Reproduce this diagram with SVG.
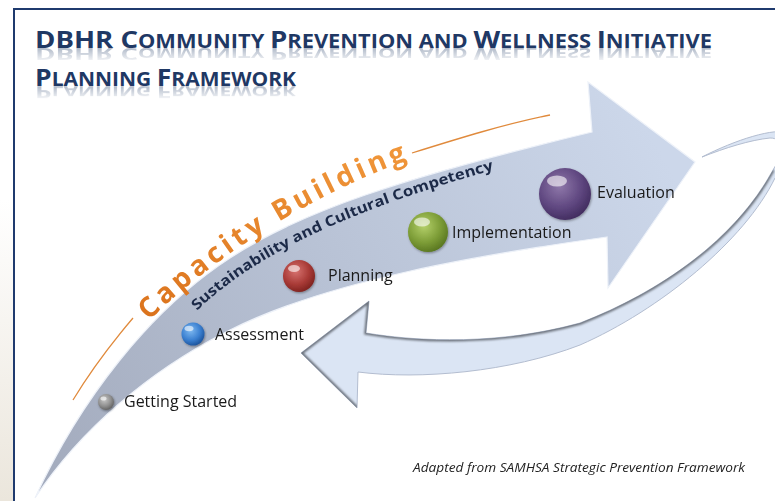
<svg xmlns="http://www.w3.org/2000/svg" width="775" height="501" viewBox="0 0 775 501">
<defs>
<style>
.title{font-family:"Open Sans","Liberation Sans",sans-serif;font-weight:bold;fill:#1f3864}
.big{font-size:24px}
.sm{font-size:19px}
.lbl{font-family:"Open Sans","Liberation Sans",sans-serif;font-size:16px;fill:#1a1a1a}
.cap{font-family:"Open Sans","DejaVu Sans",sans-serif;font-weight:bold;font-size:28px;letter-spacing:4px;fill:url(#orange)}
.sus{font-family:"Open Sans","Liberation Sans",sans-serif;font-weight:bold;font-size:14.5px;fill:#1c2a48}
.note{font-family:"Open Sans","Liberation Sans",sans-serif;font-style:italic;font-size:12px;fill:#222}
.frame{stroke:#1f3a6e;stroke-width:2;fill:none}
.oline{stroke:#e08a3c;stroke-width:1.3;fill:none}
.hl{fill:#fff;opacity:0.6}
</style>
<linearGradient id="mainG" gradientUnits="userSpaceOnUse" x1="40" y1="480" x2="660" y2="150">
<stop offset="0" stop-color="#a3abbd"/>
<stop offset="0.5" stop-color="#b8c2d5"/>
<stop offset="1" stop-color="#ccd7ea"/>
</linearGradient>
<linearGradient id="orange" gradientUnits="userSpaceOnUse" x1="0" y1="150" x2="0" y2="330">
<stop offset="0" stop-color="#f0963a"/>
<stop offset="1" stop-color="#d9701a"/>
</linearGradient>
<linearGradient id="beige" x1="0" y1="0" x2="0" y2="1">
<stop offset="0" stop-color="#ffffff"/>
<stop offset="1" stop-color="#ebe6dc"/>
</linearGradient>
<radialGradient id="gGray" cx="0.4" cy="0.35" r="0.7">
<stop offset="0" stop-color="#c8c8c8"/><stop offset="0.6" stop-color="#8e8e8e"/><stop offset="1" stop-color="#5e5e5e"/>
</radialGradient>
<radialGradient id="gBlue" cx="0.4" cy="0.35" r="0.7">
<stop offset="0" stop-color="#7db8f0"/><stop offset="0.6" stop-color="#3a7fd0"/><stop offset="1" stop-color="#1a4f96"/>
</radialGradient>
<radialGradient id="gRed" cx="0.4" cy="0.35" r="0.7">
<stop offset="0" stop-color="#d77370"/><stop offset="0.6" stop-color="#a83a36"/><stop offset="1" stop-color="#7a201d"/>
</radialGradient>
<radialGradient id="gGreen" cx="0.4" cy="0.35" r="0.7">
<stop offset="0" stop-color="#b4d06a"/><stop offset="0.6" stop-color="#7c9c36"/><stop offset="1" stop-color="#56731f"/>
</radialGradient>
<radialGradient id="gPurple" cx="0.4" cy="0.35" r="0.7">
<stop offset="0" stop-color="#8f78aa"/><stop offset="0.6" stop-color="#5f4780"/><stop offset="1" stop-color="#3f2a5c"/>
</radialGradient>
<linearGradient id="fade" x1="0" y1="0" x2="0" y2="1">
<stop offset="0" stop-color="#fff" stop-opacity="1"/>
<stop offset="1" stop-color="#fff" stop-opacity="0"/>
</linearGradient>
<mask id="m1" maskUnits="userSpaceOnUse" x="0" y="0" width="775" height="120">
<rect x="0" y="48" width="775" height="15" fill="url(#fade)"/>
<rect x="0" y="86" width="775" height="15" fill="url(#fade)"/>
</mask>
<filter id="blur1" x="-10%" y="-10%" width="120%" height="120%"><feGaussianBlur stdDeviation="1.3"/></filter>
<filter id="blur05"><feGaussianBlur stdDeviation="0.6"/></filter>
<filter id="shadow" x="-10%" y="-10%" width="130%" height="130%"><feDropShadow dx="0.8" dy="1.2" stdDeviation="1" flood-color="#000" flood-opacity="0.35"/></filter>
<path id="retShape" d="M702,157 C735,140 775,127 790,133 C800,140 790,165 775,178 C745,240 660,310 580,345 C510,372 420,380 358,372 L357,408 L301,353 L369,301 L366,333 C420,342 500,345 580,323 C660,292 735,240 773,170 C785,150 783,138 770,138 C750,140 725,148 702,157 Z"/>
<clipPath id="retClip"><use href="#retShape"/></clipPath>
<path id="capPath" d="M78,406 C155,286 335,156 555,121"/>
<path id="susPath" d="M190,318 C240,265 330,215 500,168"/>
</defs>

<rect x="0" y="0" width="775" height="501" fill="#ffffff"/>
<rect x="0" y="200" width="13" height="301" fill="url(#beige)"/>
<path class="frame" d="M14,501 L14,9 L775,9"/>

<g id="title">
<text id="t1" class="title" x="35" y="48" textLength="677" lengthAdjust="spacingAndGlyphs"><tspan class="big">DBHR C</tspan><tspan class="sm">OMMUNITY </tspan><tspan class="big">P</tspan><tspan class="sm">REVENTION AND </tspan><tspan class="big">W</tspan><tspan class="sm">ELLNESS </tspan><tspan class="big">I</tspan><tspan class="sm">NITIATIVE</tspan></text>
<text id="t2" class="title" x="35" y="86" textLength="261" lengthAdjust="spacingAndGlyphs"><tspan class="big">P</tspan><tspan class="sm">LANNING </tspan><tspan class="big">F</tspan><tspan class="sm">RAMEWORK</tspan></text>
<g mask="url(#m1)" opacity="0.35" filter="url(#blur05)">
<use href="#t1" transform="matrix(1,0,0,-0.7,0,81.6)"/>
<use href="#t2" transform="matrix(1,0,0,-0.7,0,146.2)"/>
</g>
</g>

<g id="connectors">
<g id="return-arrow">
<use href="#retShape" fill="#dbe5f4" stroke="#b3bdd0" stroke-width="1"/>
<g clip-path="url(#retClip)">
<path d="M357,408 L301,353 L369,301 L366,333 C420,342 500,345 580,323 C660,292 735,240 773,170" fill="none" stroke="#6c727c" stroke-width="3.5" filter="url(#blur1)"/>
</g>
</g>
<g id="main-arrow">
<path d="M35,498 C80,400 150,310 230,258 C300,212 400,178 592,132 L588,82 L695,162 L608,288 L607,237 C480,255 330,280 230,330 C150,370 80,430 35,498 Z" fill="url(#mainG)" stroke="#eef2f9" stroke-width="1.2"/>
</g>
</g>

<g id="capacity-building">
<path class="oline" d="M73,400 C90,372 110,345 133,318"/>
<path class="oline" d="M412,153 C460,138 505,124 550,115"/>
<text class="cap"><textPath href="#capPath" startOffset="111">Capacity Building</textPath></text>
</g>

<g id="sustainability">
<text class="sus"><textPath href="#susPath" startOffset="10" textLength="332" lengthAdjust="spacingAndGlyphs">Sustainability and Cultural Competency</textPath></text>
</g>

<g id="node-getting-started">
<circle cx="106" cy="402" r="8" fill="url(#gGray)" filter="url(#shadow)"/>
<ellipse class="hl" cx="103.5" cy="398.5" rx="3" ry="2"/>
<text class="lbl" x="124" y="407">Getting Started</text>
</g>
<g id="node-assessment">
<circle cx="193" cy="334" r="11.5" fill="url(#gBlue)" filter="url(#shadow)"/>
<ellipse class="hl" cx="189" cy="328.5" rx="4.5" ry="2.8"/>
<text class="lbl" x="215" y="340">Assessment</text>
</g>
<g id="node-planning">
<circle cx="299" cy="276" r="16" fill="url(#gRed)" filter="url(#shadow)"/>
<ellipse class="hl" cx="294" cy="268.5" rx="6" ry="3.5"/>
<text class="lbl" x="328" y="281">Planning</text>
</g>
<g id="node-implementation">
<circle cx="428" cy="232" r="20" fill="url(#gGreen)" filter="url(#shadow)"/>
<ellipse class="hl" cx="422" cy="222" rx="8" ry="4.5"/>
<text class="lbl" x="452" y="238">Implementation</text>
</g>
<g id="node-evaluation">
<circle cx="565" cy="194" r="26" fill="url(#gPurple)" filter="url(#shadow)"/>
<ellipse class="hl" cx="557" cy="181" rx="10" ry="5.5" opacity="0.5"/>
<text class="lbl" x="597" y="198">Evaluation</text>
</g>

<text class="note" x="413" y="472" textLength="332" lengthAdjust="spacingAndGlyphs">Adapted from SAMHSA Strategic Prevention Framework</text>
</svg>
